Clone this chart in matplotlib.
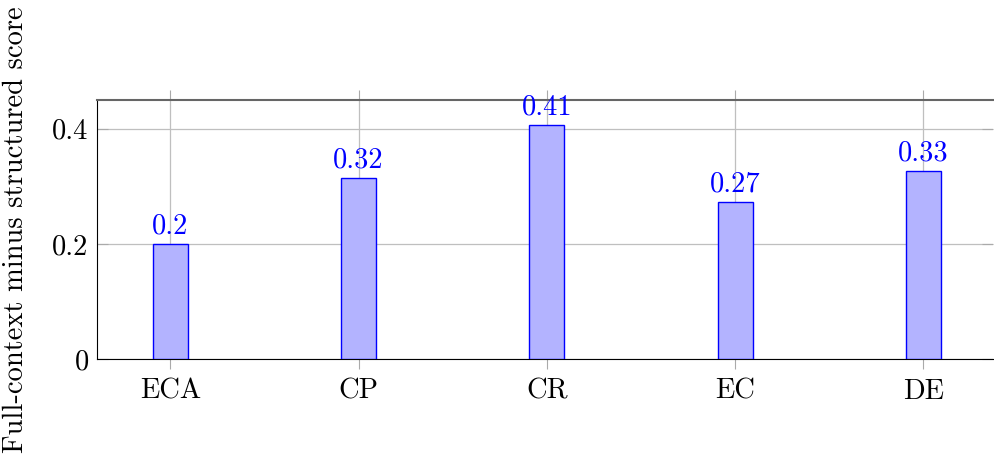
import matplotlib
matplotlib.use('Agg')
from matplotlib import pyplot as plt

plt.rcParams['font.family'] = 'cmr10'
plt.rcParams['mathtext.fontset'] = 'cm'
plt.rcParams['axes.formatter.use_mathtext'] = True

categories = ['ECA', 'CP', 'CR', 'EC', 'DE']
values = [0.20, 0.315, 0.407, 0.272, 0.327]
labels = ['0.2', '0.32', '0.41', '0.27', '0.33']
yticks = [0, 0.2, 0.4]
ytick_labels = ['0', '0.2', '0.4']

fs = 20.5

fig = plt.figure(figsize=(9.94, 4.59), dpi=100)
ax = fig.add_axes([97 / 994, 100 / 459, 896 / 994, 259 / 459])

pos = list(range(len(categories)))
ax.bar(pos, values, width=0.186, color='#b3b3ff', edgecolor='blue', linewidth=1, zorder=3)
for p, v, t in zip(pos, values, labels):
    ax.text(p, v + 0.008, t, ha='center', va='bottom', color='blue', fontsize=fs, zorder=4)

ax.set_xlim(-0.39, 4.37)
ax.set_ylim(0, 0.45)
ax.set_xticks(pos)
ax.set_xticklabels(categories, fontsize=fs)
ax.set_yticks(yticks)
ax.set_yticklabels(ytick_labels, fontsize=fs)

ax.grid(True, color='#bfbfbf', linewidth=0.9, zorder=0)
ax.tick_params(axis='x', which='both', direction='out', length=7, color='#aaaaaa',
               top=True, bottom=True, labeltop=False, pad=7)
ax.tick_params(axis='y', direction='in', length=8, color='#aaaaaa', right=True, pad=6)

ax.spines['left'].set_color('black')
ax.spines['bottom'].set_color('black')
ax.spines['top'].set_color('#666666')
ax.spines['top'].set_linewidth(1.5)
ax.spines['right'].set_visible(False)

ax.set_ylabel('Full-context minus structured score', fontsize=fs)
ax.yaxis.set_label_coords(-0.076, 0.5)

fig.savefig('out.png', dpi=100)
